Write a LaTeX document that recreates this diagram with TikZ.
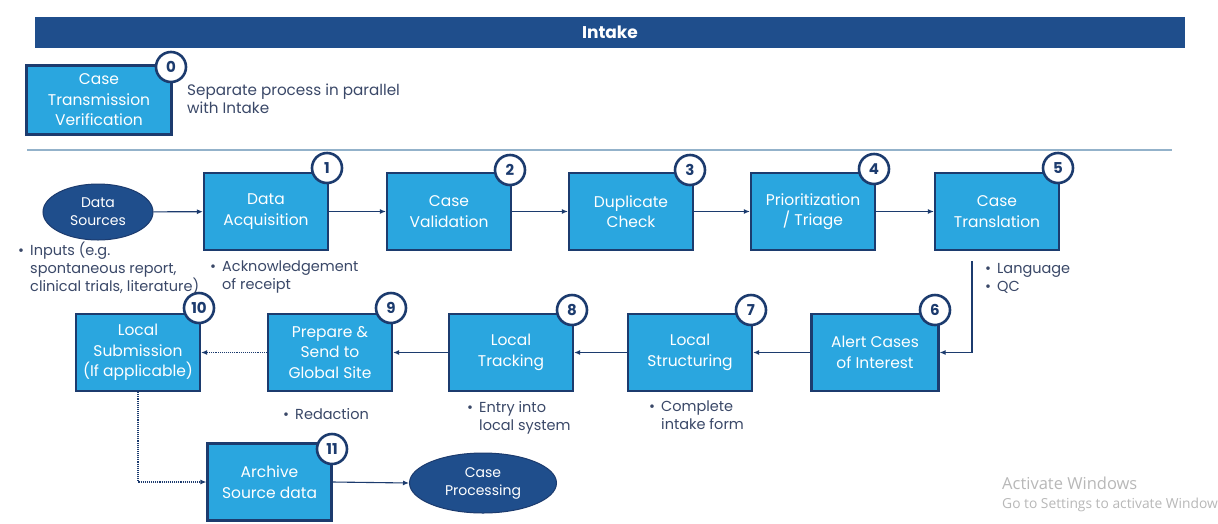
\documentclass[tikz,border=0pt]{standalone}
\usepackage{fontspec}
\setmainfont{Poppins}
\newfontfamily\wmfont{Open Sans}
\usetikzlibrary{arrows.meta,shapes.geometric}
\definecolor{navy}{HTML}{1F4E8C}
\definecolor{edgecol}{HTML}{1C3B6E}
\definecolor{fillcol}{HTML}{2AA6DF}
\definecolor{notecol}{HTML}{3A4868}
\definecolor{rulecol}{HTML}{93B2CA}
\newcommand{\bul}{\makebox[12pt][l]{\textbullet}}
\newcommand{\nob}{\hspace*{12pt}}
\tikzset{
  stepbox/.style={draw=edgecol, line width=2.2pt, fill=fillcol, text=white, minimum width=124pt,
    minimum height=77pt, align=center, font=\fontsize{15.5}{20.5}\selectfont, inner sep=2pt},
  num/.style={circle, draw=edgecol, line width=2.6pt, fill=white, text=edgecol, minimum size=30pt,
    inner sep=0pt, font=\fontsize{15}{15}\selectfont\bfseries},
  src/.style={ellipse, fill=navy, draw=edgecol, line width=1pt, text=white, align=center,
    font=\fontsize{14}{18}\selectfont, inner sep=0pt},
  bulnote/.style={text=notecol, align=left, anchor=west, font=\fontsize{14.5}{18}\selectfont, inner sep=0pt},
  arr/.style={draw=edgecol, line width=1.1pt, -{Latex[length=6pt,width=5pt]}},
}

\begin{document}
\begin{tikzpicture}[x=1pt, y=-1pt]

    \useasboundingbox (0,0) rectangle (1218,523);
    \fill[white] (0,0) rectangle (1218,523);

    \node[fill=navy, minimum width=1150pt, minimum height=31pt, inner sep=0pt, text=white,
      font=\fontsize{17}{17}\selectfont\bfseries] (bar) at (610,32.5) {Intake};

    \node[stepbox, minimum width=145pt, minimum height=69pt] (b0) at (99,100) {Case\\Transmission\\Verification};
    \node[num] (n0) at (171,67) {0};
    \node[bulnote, font=\fontsize{15.2}{18}\selectfont] (s0) at (187,99) {Separate process in parallel\\with Intake};

    \draw[rulecol, line width=1.2pt] (27,150) -- (1172,150);

    \node[src, minimum width=110pt, minimum height=56pt] (ds) at (98,212) {Data\\Sources};
    \node[stepbox] (b1) at (266,211.5) {Data\\Acquisition};
    \node[stepbox] (b2) at (449,211.5) {Case\\Validation};
    \node[stepbox] (b3) at (631,211.5) {Duplicate\\Check};
    \node[stepbox] (b4) at (813,211.5) {Prioritization\\/ Triage};
    \node[stepbox] (b5) at (997,211.5) {Case\\Translation};

    \node[num] (n1) at (327,168) {1};
    \node[num] (n2) at (510,170) {2};
    \node[num] (n3) at (690,170) {3};
    \node[num] (n4) at (874,169) {4};
    \node[num] (n5) at (1058,168) {5};

    \node[stepbox, minimum width=127pt] (b6) at (875,352.5) {Alert Cases\\of Interest};
    \node[stepbox] (b7) at (690,352.5) {Local\\Structuring};
    \node[stepbox] (b8) at (511,352.5) {Local\\Tracking};
    \node[stepbox] (b9) at (330,352.5) {Prepare \&\\Send to\\Global Site};
    \node[stepbox] (b10) at (138,352.5) {Local\\Submission\\(If applicable)};
    \node[stepbox] (b11) at (269.5,482) {Archive\\Source data};

    \node[num] (n6) at (935,310) {6};
    \node[num] (n7) at (751,310) {7};
    \node[num] (n8) at (572,310) {8};
    \node[num] (n9) at (391,308) {9};
    \node[num] (n10) at (199,308) {10};
    \node[num] (n11) at (332,449) {11};

    \node[src, minimum width=147pt, minimum height=60pt] (cp) at (483,483) {Case\\Processing};

    \draw[arr] (ds) -- (b1);
    \draw[arr] (b1) -- (b2);
    \draw[arr] (b2) -- (b3);
    \draw[arr] (b3) -- (b4);
    \draw[arr] (b4) -- (b5);
    \draw[arr] ([xshift=-25pt,yshift=-10pt]b5.south) |- (b6.east);
    \draw[arr] (b6) -- (b7);
    \draw[arr] (b7) -- (b8);
    \draw[arr] (b8) -- (b9);
    \draw[arr, densely dotted] (b9) -- (b10);
    \draw[arr, densely dotted] (b10.south) |- (b11.west);
    \draw[arr] (b11.east) -- (cp.west);

    \node[bulnote] (t0) at (18,268) {\bul Inputs (e.g.\\\nob spontaneous report,\\\nob clinical trials, literature)};
    \node[bulnote] (t1) at (210,277) {\bul Acknowledgement\\\nob of receipt};
    \node[bulnote] (t5) at (985,278) {\bul Language\\\bul QC};
    \node[bulnote] (t7) at (649,415) {\bul Complete\\\nob intake form};
    \node[bulnote] (t8) at (467,418) {\bul Entry into\\\nob local system};
    \node[bulnote] (t9) at (283,414) {\bul Redaction};

    \node[anchor=west, inner sep=0pt, text=black!28, font=\wmfont\fontsize{16.5}{16.5}\selectfont] (wm1) at (1002,483) {Activate Windows};
    \node[anchor=west, inner sep=0pt, text=black!28, font=\wmfont\fontsize{13.8}{13.8}\selectfont] (wm2) at (1002,505) {Go to Settings to activate Window};

\end{tikzpicture}
\end{document}
